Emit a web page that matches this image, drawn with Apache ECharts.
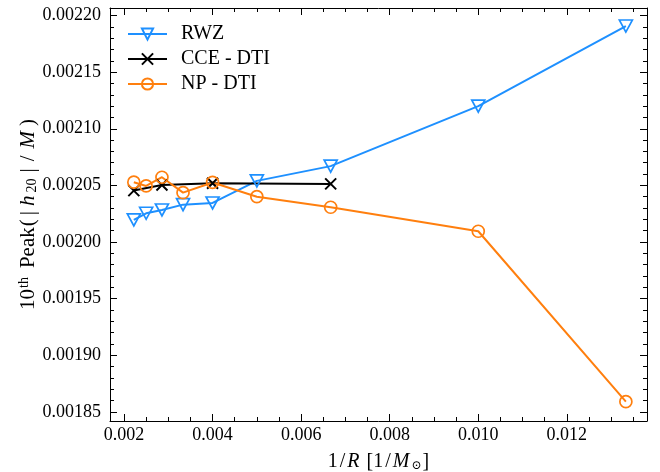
<!DOCTYPE html>
<html>
<head>
<meta charset="utf-8">
<script src="https://cdn.jsdelivr.net/npm/echarts@6/dist/echarts.min.js"></script>
<style>html,body{margin:0;padding:0;background:#fff}#c{width:660px;height:472px}</style>
</head>
<body>
<div id="c"></div>
<script>
// ---- data ----
const xAll = [0.002222, 0.0025, 0.002857, 0.003333, 0.004, 0.005, 0.006667, 0.01, 0.013333];
const rwz  = [0.0020195, 0.0020254, 0.0020283, 0.0020330, 0.0020345, 0.0020540, 0.0020670, 0.0021200, 0.0021907];
const xCce = [0.002222, 0.002857, 0.004, 0.006667];
const cce  = [0.0020454, 0.0020504, 0.0020519, 0.0020513];
const npDti = [0.0020528, 0.0020495, 0.0020572, 0.0020436, 0.0020526, 0.0020400, 0.0020307, 0.0020095, 0.0018591];
const seriesNames = ['RWZ', 'CCE - DTI', 'NP - DTI'];
const xMajor = [0.002, 0.004, 0.006, 0.008, 0.010, 0.012];
const xMinor = [0.0025, 0.003, 0.0035, 0.0045, 0.005, 0.0055, 0.0065, 0.007, 0.0075, 0.0085, 0.009, 0.0095, 0.0105, 0.011, 0.0115, 0.0125, 0.013, 0.0135];
const yMajor = [0.00185, 0.00190, 0.00195, 0.00200, 0.00205, 0.00210, 0.00215, 0.00220];
const yMinor = [0.00186, 0.00187, 0.00188, 0.00189, 0.00191, 0.00192, 0.00193, 0.00194,
                0.00196, 0.00197, 0.00198, 0.00199, 0.00201, 0.00202, 0.00203, 0.00204,
                0.00206, 0.00207, 0.00208, 0.00209, 0.00211, 0.00212, 0.00213, 0.00214,
                0.00216, 0.00217, 0.00218, 0.00219];
const xRange = [0.001684, 0.01381];
const yRange = [0.001842, 0.0022066];

const FONT = 'Liberation Serif';
const C_BLUE = '#1E90FF', C_BLACK = '#000000', C_ORANGE = '#FF7F0E';

function pairs(xs, ys) { return xs.map((x, i) => [x, ys[i]]); }

function xAx(pos, ticks, len, labels, line) {
  return {
    type: 'value', position: pos, min: xRange[0], max: xRange[1],
    splitLine: { show: false },
    axisLine: { show: line, onZero: false, lineStyle: { color: '#000', width: 1 } },
    axisTick: { show: true, inside: true, length: len, customValues: ticks, lineStyle: { color: '#000', width: 1 } },
    axisLabel: labels ? { show: true, customValues: ticks, margin: 5, fontFamily: FONT, fontSize: 18, color: '#000',
                          formatter: v => v.toFixed(3) } : { show: false },
  };
}
function yAx(pos, ticks, len, labels, line) {
  return {
    type: 'value', position: pos, min: yRange[0], max: yRange[1],
    splitLine: { show: false },
    axisLine: { show: line, onZero: false, lineStyle: { color: '#000', width: 1 } },
    axisTick: { show: true, inside: true, length: len, customValues: ticks, lineStyle: { color: '#000', width: 1 } },
    axisLabel: labels ? { show: true, customValues: ticks, margin: 9, fontFamily: FONT, fontSize: 18, color: '#000',
                          formatter: v => v.toFixed(5) } : { show: false },
  };
}

const xAxes = [xAx('bottom', xMajor, 7, true, true), xAx('bottom', xMinor, 4, false, false),
               xAx('top', xMajor, 7, false, true), xAx('top', xMinor, 4, false, false)];
xAxes[0].name = '{a|1}{sl|/}{i|R}{a| [1}{sl|/}{i|M}{sub|⊙}{a|]}';
xAxes[0].nameLocation = 'middle';
xAxes[0].nameGap = 31;
xAxes[0].nameTextStyle = {
  fontFamily: FONT, fontSize: 20, color: '#000',
  rich: {
    a: { fontFamily: FONT, fontSize: 20, color: '#000' },
    sl: { fontFamily: FONT, fontSize: 20, color: '#000', padding: [0, 2, 0, 2] },
    i: { fontFamily: FONT, fontSize: 20, fontStyle: 'italic', color: '#000', padding: [0, 2, 0, 0] },
    sub: { fontFamily: 'DejaVu Serif', fontSize: 12, color: '#000', padding: [7, 1, 0, 0] }
  }
};
const yAxes = [yAx('left', yMajor, 7, true, true), yAx('left', yMinor, 4, false, false),
               yAx('right', yMajor, 7, false, true), yAx('right', yMinor, 4, false, false)];
yAxes[0].name = '{a|10}{sup|th}{pk|Peak}{lp|(}{bar||}{h|h}{sub|20}{bar||}{sl|/}{m|M}{rp|)}';
yAxes[0].nameLocation = 'middle';
yAxes[0].nameRotate = 90;
yAxes[0].nameGap = 70;
yAxes[0].nameMoveOverlap = false;
yAxes[0].nameTextStyle = {
  fontFamily: FONT, fontSize: 21, color: '#000',
  rich: {
    a: { fontFamily: FONT, fontSize: 21, color: '#000' },
    sup: { fontFamily: FONT, fontSize: 14, color: '#000', padding: [0, 0, 9, 1] },
    pk: { fontFamily: FONT, fontSize: 21, color: '#000', padding: [0, 0, 0, 9] },
    lp: { fontFamily: FONT, fontSize: 21, color: '#000', padding: [0, 1, 0, 1] },
    bar: { fontFamily: FONT, fontSize: 21, color: '#000', padding: [0, 3, 0, 3] },
    h: { fontFamily: FONT, fontSize: 21, fontStyle: 'italic', color: '#000', padding: [0, 2, 0, 2] },
    sub: { fontFamily: FONT, fontSize: 14, color: '#000', padding: [7, 3, 0, 1] },
    sl: { fontFamily: FONT, fontSize: 21, color: '#000', padding: [0, 4, 0, 4] },
    m: { fontFamily: FONT, fontSize: 21, fontStyle: 'italic', color: '#000', padding: [0, 3, 0, 3] },
    rp: { fontFamily: FONT, fontSize: 21, color: '#000', padding: [0, 0, 0, 2] }
  }
};

const XPATH = 'path://M0,0L10,10M10,0L0,10';

const chart = echarts.init(document.getElementById('c'), null, { renderer: 'canvas' });
chart.setOption({
  animation: false,
  backgroundColor: '#fff',
  grid: { left: 110, right: 13, top: 8, bottom: 51, containLabel: false, outerBoundsMode: 'none' },
  xAxis: xAxes,
  yAxis: yAxes,
  legend: {
    orient: 'vertical', left: 127, top: 24, padding: 0, itemWidth: 39, itemHeight: 14, itemGap: 5,
    textStyle: { fontFamily: FONT, fontSize: 20, color: '#000', padding: [0, 0, 0, 9] },
    data: seriesNames
  },
  series: [
    { name: seriesNames[0], type: 'line', data: pairs(xAll, rwz), xAxisIndex: 0, yAxisIndex: 0,
      symbol: 'triangle', symbolRotate: 180, symbolSize: [13, 12], showAllSymbol: true,
      lineStyle: { color: C_BLUE, width: 2 },
      itemStyle: { color: 'rgba(255,255,255,0)', borderColor: C_BLUE, borderWidth: 1.7 } },
    { name: seriesNames[1], type: 'line', data: pairs(xCce, cce), xAxisIndex: 0, yAxisIndex: 0,
      symbol: XPATH, symbolSize: 11, showAllSymbol: true,
      lineStyle: { color: C_BLACK, width: 2 },
      itemStyle: { color: 'rgba(0,0,0,0)', borderColor: C_BLACK, borderWidth: 2 } },
    { name: seriesNames[2], type: 'line', data: pairs(xAll, npDti), xAxisIndex: 0, yAxisIndex: 0,
      symbol: 'circle', symbolSize: 12, showAllSymbol: true,
      lineStyle: { color: C_ORANGE, width: 2 },
      itemStyle: { color: 'rgba(255,255,255,0)', borderColor: C_ORANGE, borderWidth: 1.7 } }
  ]
});
</script>
</body>
</html>
